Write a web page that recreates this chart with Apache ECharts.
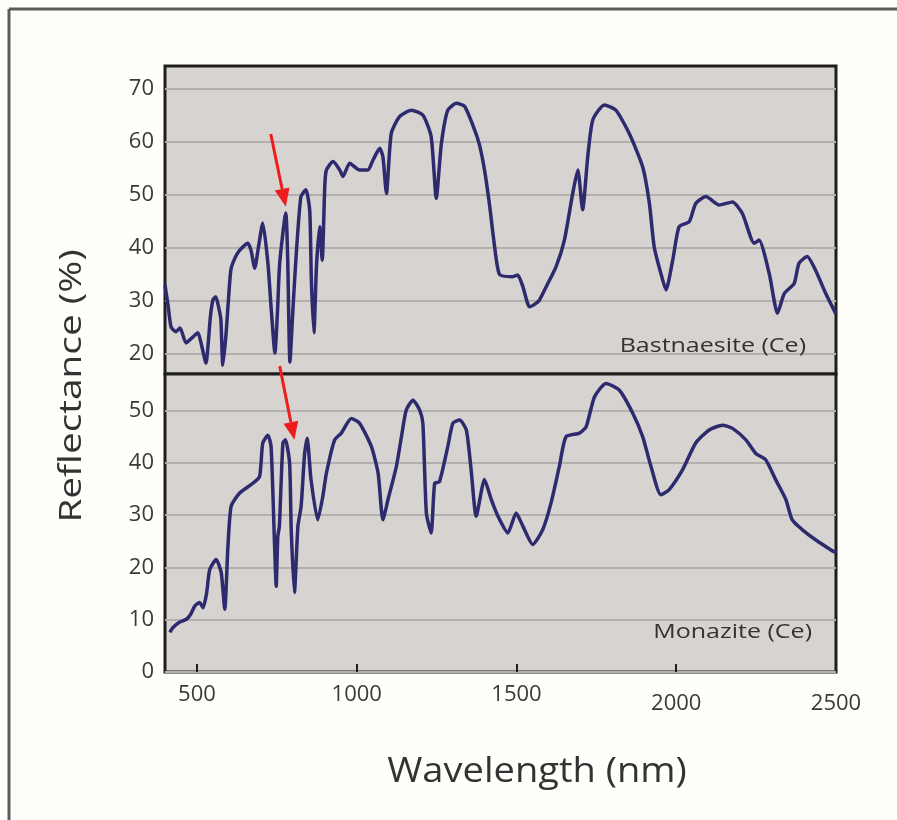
<!DOCTYPE html>
<html><head><meta charset="utf-8">
<script src="https://cdn.jsdelivr.net/npm/echarts@6/dist/echarts.min.js"></script>
<style>html,body{margin:0;padding:0;background:#fffefb}#c{width:897px;height:820px}</style>
</head><body><div id="c"></div>
<script>
// Bastnaesite (Ce) spectrum (top panel)
const bastWavelength = [400,410,419,434,447,466,487,503,515,528,542,550,559,569,575,581,590,597,606,618,634,659,669,681,692,706,722,733,744,752,759,778,784,791,800,809,825,841,853,858,866,874,884,892,900,905,926,947,957,978,1009,1035,1051,1072,1082,1093,1108,1134,1171,1207,1233,1249,1265,1285,1312,1338,1369,1384,1400,1416,1430,1447,1488,1504,1520,1541,1560,1572,1593,1624,1650,1676,1692,1707,1723,1739,1775,1811,1853,1895,1916,1931,1952,1968,1989,2009,2041,2061,2093,2134,2176,2207,2244,2259,2291,2317,2338,2369,2384,2410,2436,2468,2500];
const bastReflectance = [33,29,25.1,24.2,24.9,22.1,23.2,24,21.5,18.3,27,30.2,30.8,28.5,26.4,17.9,23,28.9,35.8,38,39.6,40.9,39.6,36.2,40,44.7,37.2,28,20.2,28,37.2,46.6,38,18.5,28,37.2,49.6,51,47,34,24,36.5,44,37.7,51.6,54.7,56.3,54.7,53.5,56,54.7,54.7,56.6,58.8,57.2,50.3,61.6,64.8,66,65.1,61,49.4,59.7,66,67.3,66.7,62.3,59.5,54.7,48,41,35,34.6,34.9,32.7,28.9,29.5,30.2,32.7,36.5,41.5,50.3,54.7,47.2,57.2,64.2,67,66,61.6,55.3,48.4,40.2,35.2,32.1,37.7,44,45,48.4,49.7,48.1,48.7,46.5,40.9,41.5,35.2,27.7,31.4,33.3,37.1,38.4,35.8,31.4,27.5];

// Monazite (Ce) spectrum (bottom panel)
const monWavelength = [415,425,445,467,480,493,508,519,530,540,560,576,587,597,607,633,675,696,706,722,732,743,748,753,758,769,777,790,795,805,816,826,837,845,857,878,894,905,931,952,983,1009,1046,1067,1082,1098,1124,1140,1155,1176,1197,1207,1218,1233,1244,1259,1285,1301,1322,1343,1358,1374,1400,1421,1442,1473,1499,1520,1551,1582,1608,1634,1655,1697,1718,1744,1780,1822,1864,1895,1921,1952,1978,2020,2061,2103,2145,2176,2218,2249,2280,2311,2343,2363,2395,2436,2483,2500];
const monReflectance = [7.6,8.5,9.5,10.1,11,12.6,13.3,12.3,15,19.6,21.5,19,12,24.1,31.7,34.2,36.1,37.4,43.8,45.3,43.1,24.1,16.4,25.9,27.9,43.8,44.4,39.9,27.2,15.2,27.9,31.7,41.8,44.7,36.8,29.1,33.6,38,44.4,45.7,48.5,47.6,43.1,38,29.1,33,39.3,45,50.1,52,50.1,47.6,30.4,26.6,36.1,36.4,43.1,47.6,48.2,46.3,38.7,29.8,36.8,33,29.8,26.6,30.4,27.9,24.4,27.2,32.3,39.3,45,45.7,46.9,52.6,55.2,53.9,49.5,45,39.3,33.9,34.9,38.7,43.8,46.3,47.2,46.6,44.4,41.8,40.6,36.8,33,29.1,27.2,25.3,23.4,22.8];

const xTickLabels = [500,1000,1500,2000,2500];
const xTickMarks = [500,1000,1500,2000];
const yTicksTop = [20,30,40,50,60,70];
const yTicksBottom = [0,10,20,30,40,50];

// annotation arrows, in data units of each panel
const arrowGrids = [0,1];
const arrowTails = [[731,61.5],[759,58.5]];
const arrowTips = [[778,47.8],[805,44.4]];

const FONT = 'Open Sans';
const LINE = '#2d2b6e';
const pairs = (xs, ys) => xs.map((x,i)=>[x, ys[i]]);

const chart = echarts.init(document.getElementById('c'), null, {renderer:'canvas'});

const gridCommon = {show:true, left:165, right:61, backgroundColor:'#d6d3d1', borderColor:'#1e1e1e', borderWidth:3};
const yCommon = (ticks, min, max) => ({
  type:'value', min:min, max:max,
  axisLine:{show:false},
  axisTick:{show:false, customValues:ticks},
  axisLabel:{customValues:ticks, fontFamily:FONT, fontSize:22, color:'#3a3a3a', margin:11},
  splitLine:{show:true, lineStyle:{color:'#b2afad', width:2}}
});

chart.setOption({
  backgroundColor:'#fffefb',
  animation:false,
  grid:[
    Object.assign({top:66, height:308}, gridCommon),
    Object.assign({top:374, height:298}, gridCommon)
  ],
  xAxis:[
    {type:'value', gridIndex:0, min:400, max:2500, axisLine:{show:false}, axisTick:{show:false}, axisLabel:{show:false}, splitLine:{show:false}},
    {type:'value', gridIndex:1, min:400, max:2500, axisLine:{show:false},
      axisTick:{show:true, inside:true, length:8, customValues:xTickMarks, lineStyle:{color:'#1e1e1e', width:2}},
      axisLabel:{customValues:xTickLabels, margin:12, color:'#3a3a3a',
        formatter:v => (v >= 2000 ? '{lo|' + v + '}' : '{hi|' + v + '}'),
        rich:{hi:{fontFamily:FONT, fontSize:22, color:'#3a3a3a'}, lo:{fontFamily:FONT, fontSize:22, color:'#3a3a3a', padding:[9,0,0,0]}}},
      splitLine:{show:false}}
  ],
  yAxis:[
    Object.assign({gridIndex:0}, yCommon(yTicksTop, 16.23, 74.34)),
    Object.assign({gridIndex:1}, yCommon(yTicksBottom, 0, 57))
  ],
  series:[
    {type:'line', xAxisIndex:0, yAxisIndex:0, data:pairs(bastWavelength, bastReflectance), showSymbol:false, symbol:'none', smooth:0.2, lineStyle:{color:LINE, width:3.5, join:'round'}, z:5},
    {type:'line', xAxisIndex:1, yAxisIndex:1, data:pairs(monWavelength, monReflectance), showSymbol:false, symbol:'none', smooth:0.2, lineStyle:{color:LINE, width:3.5, join:'round'}, z:5}
  ],
  graphic:[
    {type:'line', shape:{x1:9, y1:9, x2:897, y2:9}, style:{stroke:'#5c5c5c', lineWidth:3}, silent:true},
    {type:'line', shape:{x1:9, y1:9, x2:9, y2:820}, style:{stroke:'#5c5c5c', lineWidth:3}, silent:true},
    {type:'text', x:72, y:386, rotation:Math.PI/2, scaleX:1.25, style:{text:'Reflectance (%)', font:'31px "Open Sans"', fill:'#333', align:'center', verticalAlign:'middle'}},
    {type:'text', x:537, y:772, scaleX:1.12, style:{text:'Wavelength (nm)', font:'34px "Open Sans"', fill:'#333', align:'center', verticalAlign:'middle'}},
    {type:'text', x:806, y:346, z:10, scaleX:1.25, style:{text:'Bastnaesite (Ce)', font:'20px "Open Sans"', fill:'#333', align:'right', verticalAlign:'middle'}},
    {type:'text', x:812, y:632, z:10, scaleX:1.25, style:{text:'Monazite (Ce)', font:'20px "Open Sans"', fill:'#333', align:'right', verticalAlign:'middle'}}
  ]
});

// arrows: convert data coords to pixels through the axes
const arrowGraphics = [];
arrowGrids.forEach((g, i) => {
  const a = chart.convertToPixel({gridIndex:g}, arrowTails[i]);
  const b = chart.convertToPixel({gridIndex:g}, arrowTips[i]);
  const dx = b[0]-a[0], dy = b[1]-a[1];
  const len = Math.sqrt(dx*dx+dy*dy);
  const ux = dx/len, uy = dy/len;
  const hl = 18, hw = 7.5;
  const bx = b[0]-ux*hl, by = b[1]-uy*hl;
  arrowGraphics.push({type:'line', z:20, shape:{x1:a[0], y1:a[1], x2:bx, y2:by}, style:{stroke:'#ee1c1c', lineWidth:3}, silent:true});
  arrowGraphics.push({type:'polygon', z:20, shape:{points:[[b[0],b[1]],[bx-uy*hw, by+ux*hw],[bx+uy*hw, by-ux*hw]]}, style:{fill:'#ee1c1c'}, silent:true});
});
chart.setOption({graphic: chart.getOption().graphic[0].elements.concat(arrowGraphics)});
</script>
</body></html>
